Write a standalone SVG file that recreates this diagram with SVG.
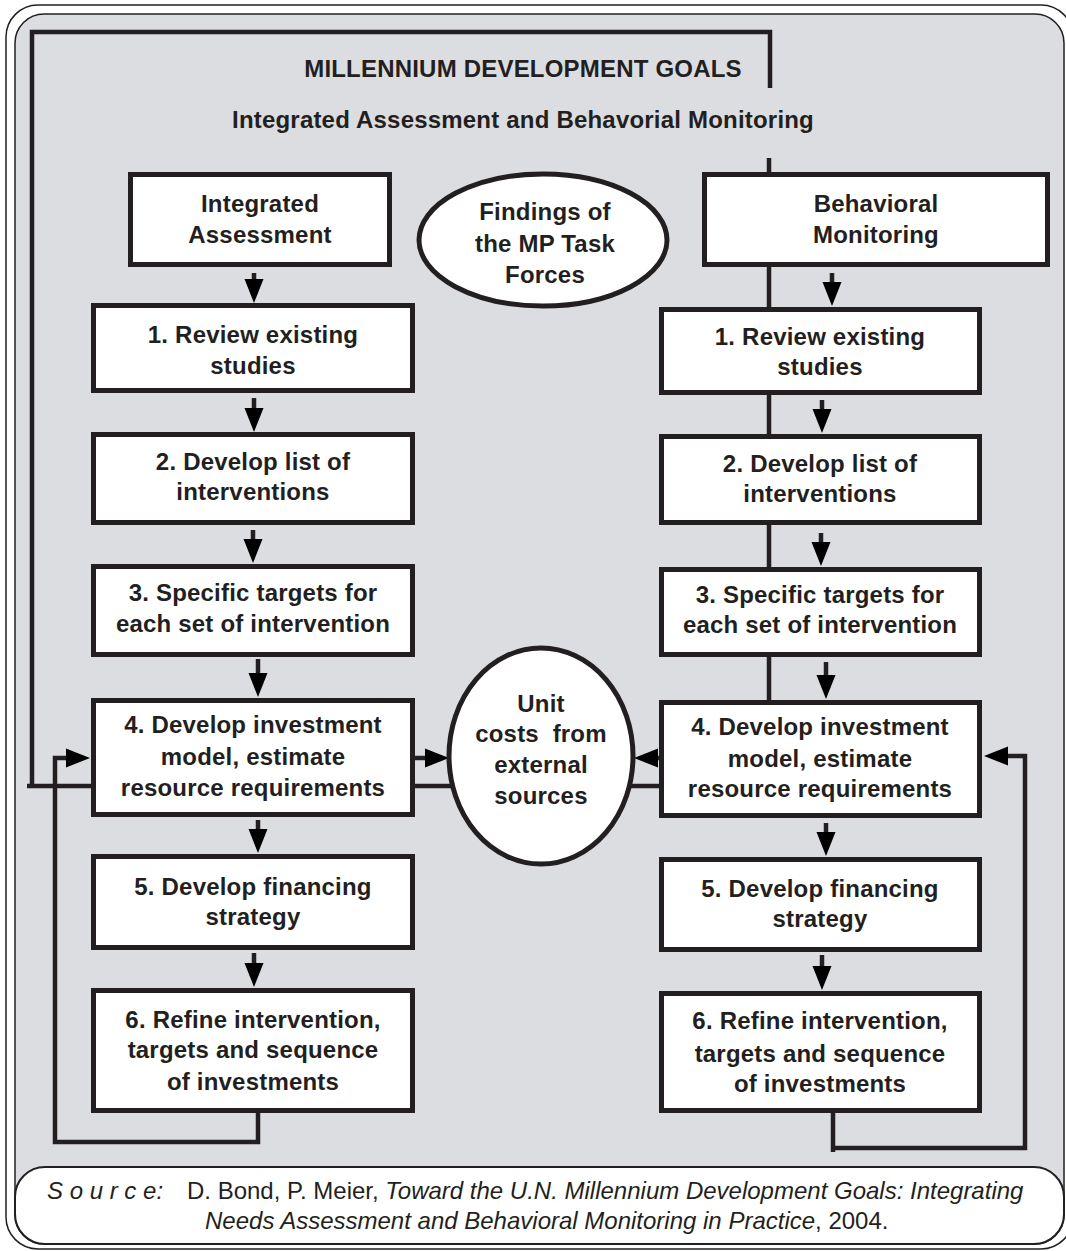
<svg xmlns="http://www.w3.org/2000/svg" xmlns:xlink="http://www.w3.org/1999/xlink" width="1066" height="1251" viewBox="0 0 1066 1251">
<style>
.box{fill:#fff;stroke:#231f20;stroke-width:5}
.ell{fill:#fff;stroke:#231f20;stroke-width:5}
.t{font-family:"Liberation Sans",Arial,sans-serif;font-weight:bold;font-size:24px;fill:#231f20;text-anchor:middle;letter-spacing:0.2px;white-space:pre}
.ln{fill:none;stroke:#231f20;stroke-width:4.5;stroke-linejoin:miter;stroke-linecap:butt}
.ah{fill:#000}
.src{font-family:"Liberation Sans",Arial,sans-serif;font-size:24px;fill:#231f20}
.it{font-style:italic}
</style>
<defs>
<path id="ah" d="M0 0 L-9.5 -24 L9.5 -24 Z"/>
</defs>
<rect x="6" y="5" width="1067" height="1244" rx="32" fill="#fff" stroke="#231f20" stroke-width="1.5"/>
<rect x="15" y="14" width="1049" height="1230" rx="29" fill="#dcdde0" stroke="#231f20" stroke-width="1.5"/>

<g id="connectors">
<path class="ln" d="M91 786 H27 M32 788 V32 H770 V88"/>
<path class="ln" d="M769 158 V700"/>
<path class="ln" d="M258 1111 V1142 H55 V758 H70"/>
<path class="ln" d="M833 1111 V1152 M833 1148 H1025 V756 H1008"/>
<path class="ln" d="M415 786 H452 M630 786 H661"/>
<path class="ln" d="M415 758 H426 M657 758 H662"/>
<g class="ah">
<path class="ln" d="M254 273 V282 M254 398 V410 M253 530 V541 M258 659 V674 M258 820 V831 M254 953 V965"/>
<path class="ln" d="M832 273 V284 M822 400 V411 M821 533 V544 M826 662 V677 M826 823 V834 M822 955 V968"/>
<use xlink:href="#ah" transform="translate(254,303)"/>
<use xlink:href="#ah" transform="translate(254,432)"/>
<use xlink:href="#ah" transform="translate(253,563)"/>
<use xlink:href="#ah" transform="translate(258,697)"/>
<use xlink:href="#ah" transform="translate(258,853)"/>
<use xlink:href="#ah" transform="translate(254,987)"/>
<use xlink:href="#ah" transform="translate(832,306)"/>
<use xlink:href="#ah" transform="translate(822,433)"/>
<use xlink:href="#ah" transform="translate(821,566)"/>
<use xlink:href="#ah" transform="translate(826,699)"/>
<use xlink:href="#ah" transform="translate(826,856)"/>
<use xlink:href="#ah" transform="translate(822,990)"/>
<use xlink:href="#ah" transform="translate(90,758) rotate(-90)"/>
<use xlink:href="#ah" transform="translate(449,758) rotate(-90)"/>
<use xlink:href="#ah" transform="translate(634,758) rotate(90)"/>
<use xlink:href="#ah" transform="translate(984,756) rotate(90)"/>
</g>
</g>

<text class="t" x="523" y="77">MILLENNIUM DEVELOPMENT GOALS</text>
<text class="t" x="523" y="128">Integrated Assessment and Behavorial Monitoring</text>

<g id="ia"><rect class="box" x="130.5" y="174.5" width="259" height="90"/>
<text class="t" x="260" y="212">Integrated</text><text class="t" x="260" y="243">Assessment</text></g>
<g id="bm"><rect class="box" x="704.5" y="174.5" width="343" height="90"/>
<text class="t" x="876" y="212">Behavioral</text><text class="t" x="876" y="243">Monitoring</text></g>
<g id="findings"><ellipse class="ell" cx="543" cy="240" rx="124" ry="66"/>
<text class="t" x="545" y="220">Findings of</text><text class="t" x="545" y="252">the MP Task</text><text class="t" x="545" y="283">Forces</text></g>

<g id="l1"><rect class="box" x="93.5" y="305.5" width="319" height="85"/>
<text class="t" x="253" y="343">1. Review existing</text><text class="t" x="253" y="374">studies</text></g>
<g id="l2"><rect class="box" x="93.5" y="434.5" width="319" height="88"/>
<text class="t" x="253" y="470">2. Develop list of</text><text class="t" x="253" y="500">interventions</text></g>
<g id="l3"><rect class="box" x="93.5" y="566.5" width="319" height="88"/>
<text class="t" x="253" y="601">3. Specific targets for</text><text class="t" x="253" y="632">each set of intervention</text></g>
<g id="l4"><rect class="box" x="93.5" y="700.5" width="319" height="114"/>
<text class="t" x="253" y="733">4. Develop investment</text><text class="t" x="253" y="765">model, estimate</text><text class="t" x="253" y="796">resource requirements</text></g>
<g id="l5"><rect class="box" x="93.5" y="856.5" width="319" height="91"/>
<text class="t" x="253" y="895">5. Develop financing</text><text class="t" x="253" y="925">strategy</text></g>
<g id="l6"><rect class="box" x="93.5" y="990.5" width="319" height="120"/>
<text class="t" x="253" y="1028">6. Refine intervention,</text><text class="t" x="253" y="1058">targets and sequence</text><text class="t" x="253" y="1090">of investments</text></g>

<g id="unit"><ellipse class="ell" cx="541" cy="756" rx="92" ry="108"/>
<text class="t" x="541" y="712">Unit</text><text class="t" x="541" y="742">costs  from</text><text class="t" x="541" y="773">external</text><text class="t" x="541" y="804">sources</text></g>

<g id="r1"><rect class="box" x="661.5" y="309.5" width="318" height="83"/>
<text class="t" x="820" y="345">1. Review existing</text><text class="t" x="820" y="375">studies</text></g>
<g id="r2"><rect class="box" x="661.5" y="436.5" width="318" height="86"/>
<text class="t" x="820" y="472">2. Develop list of</text><text class="t" x="820" y="502">interventions</text></g>
<g id="r3"><rect class="box" x="661.5" y="569.5" width="318" height="85"/>
<text class="t" x="820" y="603">3. Specific targets for</text><text class="t" x="820" y="633">each set of intervention</text></g>
<g id="r4"><rect class="box" x="661.5" y="702.5" width="318" height="113"/>
<text class="t" x="820" y="735">4. Develop investment</text><text class="t" x="820" y="767">model, estimate</text><text class="t" x="820" y="797">resource requirements</text></g>
<g id="r5"><rect class="box" x="661.5" y="859.5" width="318" height="90"/>
<text class="t" x="820" y="897">5. Develop financing</text><text class="t" x="820" y="927">strategy</text></g>
<g id="r6"><rect class="box" x="661.5" y="993.5" width="318" height="117"/>
<text class="t" x="820" y="1029">6. Refine intervention,</text><text class="t" x="820" y="1062">targets and sequence</text><text class="t" x="820" y="1092">of investments</text></g>

<g id="source">
<rect x="15" y="1167" width="1049" height="77" rx="30" fill="#fff" stroke="#231f20" stroke-width="2"/>
<text class="src" y="1199"><tspan class="it" x="47">S o u r c e:</tspan><tspan x="187">D. Bond, P. Meier, </tspan><tspan class="it">Toward the U.N. Millennium Development Goals: Integrating</tspan></text>
<text class="src" y="1229"><tspan class="it" x="205">Needs Assessment and Behavioral Monitoring in Practice</tspan><tspan>, 2004.</tspan></text>
</g>
</svg>
